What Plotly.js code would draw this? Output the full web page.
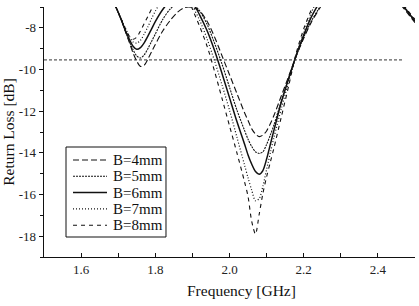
<!DOCTYPE html>
<html>
<head>
<meta charset="utf-8">
<script src="https://cdn.plot.ly/plotly-3.0.1.min.js"></script>
<style>
  html, body { margin: 0; padding: 0; background: #ffffff; }
  #chart { width: 419px; height: 306px; }
</style>
</head>
<body>
<div id="chart"></div>
<script>
// Frequency samples (GHz) shared by every sweep
const freqGHz = [1.69, 1.70, 1.71, 1.72, 1.73, 1.74, 1.75, 1.76, 1.77, 1.78, 1.79, 1.80,
  1.82, 1.84, 1.86, 1.88, 1.90, 1.92, 1.94, 1.96, 1.98, 2.00, 2.02, 2.04, 2.05, 2.06,
  2.07, 2.08, 2.09, 2.10, 2.11, 2.12, 2.14, 2.16, 2.18, 2.20, 2.22, 2.24, 2.26, 2.30,
  2.35, 2.40, 2.44, 2.46, 2.48, 2.50];

// Return loss (dB) for each width B
const rlB4 = [-6.85, -7.25, -7.7, -8.2, -8.7, -9.2, -9.6, -9.85, -9.8, -9.5, -9.15, -8.8,
  -8.15, -7.65, -7.25, -7.02, -7.02, -7.2, -7.7, -8.45, -9.35, -10.25, -11.15, -12.05, -12.45, -12.85,
  -13.1, -13.22, -13.15, -12.95, -12.6, -12.2, -11.25, -10.3, -9.35, -8.5, -7.75, -7.15, -6.6, -5.8,
  -5.1, -5.5, -6.4, -6.85, -7.3, -7.75];
const rlB5 = [-6.85, -7.25, -7.7, -8.2, -8.65, -9.05, -9.35, -9.45, -9.3, -9.0, -8.65, -8.3,
  -7.6, -7.1, -6.8, -6.7, -6.85, -7.2, -7.85, -8.75, -9.75, -10.85, -11.95, -12.9, -13.35, -13.7,
  -13.95, -14.03, -13.95, -13.6, -13.15, -12.65, -11.5, -10.4, -9.35, -8.45, -7.7, -7.1, -6.55, -5.75,
  -5.05, -5.45, -6.35, -6.8, -7.25, -7.7];
const rlB6 = [-6.85, -7.25, -7.7, -8.15, -8.55, -8.88, -9.03, -8.95, -8.72, -8.4, -8.05, -7.7,
  -7.12, -6.7, -6.45, -6.4, -6.75, -7.4, -8.15, -9.1, -10.2, -11.35, -12.5, -13.55, -14.1, -14.55,
  -14.9, -15.03, -14.85, -14.3, -13.6, -12.9, -11.55, -10.4, -9.3, -8.35, -7.5, -6.85, -6.25, -5.7,
  -5.0, -5.4, -6.3, -6.78, -7.22, -7.68];
const rlB7 = [-6.85, -7.25, -7.65, -8.05, -8.4, -8.68, -8.73, -8.6, -8.3, -7.95, -7.55, -7.2,
  -6.6, -6.2, -6.0, -6.3, -6.95, -7.65, -8.55, -9.6, -10.75, -11.95, -13.25, -14.55, -15.2, -15.8,
  -16.3, -16.2, -15.6, -14.8, -14.0, -13.25, -11.85, -10.55, -9.3, -8.25, -7.3, -6.5, -5.8, -5.5,
  -4.9, -5.3, -6.25, -6.75, -7.2, -7.65];
const rlB8 = [-6.85, -7.25, -7.65, -8.05, -8.4, -8.55, -8.45, -8.15, -7.8, -7.45, -7.1, -6.8,
  -6.3, -5.9, -5.8, -6.2, -7.1, -7.95, -8.9, -10.1, -11.4, -12.7, -14.0, -15.35, -16.1, -17.3,
  -17.9, -16.95, -15.95, -15.15, -14.45, -13.75, -12.25, -10.75, -9.2, -8.05, -7.15, -6.3, -5.5, -5.4,
  -4.8, -5.2, -6.2, -6.7, -7.15, -7.6];

const seriesNames = ['B=4mm', 'B=5mm', 'B=6mm', 'B=7mm', 'B=8mm'];

// -10 dB design threshold line
const refLevelDb = -9.54;
const refSpanGHz = [1.5, 2.47];

const xTickVals = [1.6, 1.8, 2.0, 2.2, 2.4];
const xTickText = ['1.6', '1.8', '2.0', '2.2', '2.4'];
const yTickVals = [-18, -16, -14, -12, -10, -8];
const yTickText = ['-18', '-16', '-14', '-12', '-10', '-8'];

const serif = '"Liberation Serif", "Times New Roman", serif';
const ink = '#111111';
const seriesData = [rlB4, rlB5, rlB6, rlB7, rlB8];
const styles = [
  { dash: '6px,3px', width: 1.1 },
  { dash: '2px,1px', width: 1.1 },
  { dash: 'solid', width: 1.5 },
  { dash: '1px,2px', width: 1.2 },
  { dash: '4px,4px', width: 1.1 }
];

const traces = seriesData.map((ys, i) => ({
  type: 'scatter',
  mode: 'lines',
  name: seriesNames[i],
  x: freqGHz,
  y: ys,
  showlegend: false,
  line: { color: ink, width: styles[i].width, dash: styles[i].dash, shape: 'spline', smoothing: 0.8 }
}));

traces.push({
  type: 'scatter',
  mode: 'lines',
  x: refSpanGHz,
  y: [refLevelDb, refLevelDb],
  showlegend: false,
  hoverinfo: 'skip',
  line: { color: '#333333', width: 1, dash: '3px,2px' }
});

// Compact boxed key in the lower-left corner of the plot (paper coordinates)
const key = { x0: 0.0593, x1: 0.3288, y0: 0.08, y1: 0.44, lineX0: 0.0782, lineX1: 0.1698, textX: 0.1806, rowTop: 0.388, rowStep: 0.0652 };
const shapes = [{
  type: 'rect', xref: 'paper', yref: 'paper',
  x0: key.x0, x1: key.x1, y0: key.y0, y1: key.y1,
  line: { color: ink, width: 1 }, fillcolor: '#ffffff', layer: 'above'
}];
const annotations = [];
seriesNames.forEach((name, i) => {
  const yRow = key.rowTop - i * key.rowStep;
  shapes.push({
    type: 'line', xref: 'paper', yref: 'paper',
    x0: key.lineX0, x1: key.lineX1, y0: yRow, y1: yRow,
    line: { color: ink, width: styles[i].width, dash: styles[i].dash }, layer: 'above'
  });
  annotations.push({
    text: name, xref: 'paper', yref: 'paper',
    x: key.textX, y: yRow, xanchor: 'left', yanchor: 'middle',
    showarrow: false, font: { family: serif, size: 15, color: ink }
  });
});

annotations.push({
  text: 'Frequency [GHz]',
  xref: 'paper', yref: 'paper',
  x: 0.532, y: -0.132, xanchor: 'center', yanchor: 'middle',
  showarrow: false,
  font: { family: serif, size: 15.5, color: ink }
});

const layout = {
  width: 419,
  height: 306,
  margin: { l: 44, r: 4, t: 7, b: 49 },
  paper_bgcolor: '#ffffff',
  plot_bgcolor: '#ffffff',
  font: { family: serif, color: ink, size: 13 },
  showlegend: false,
  xaxis: {
    range: [1.5, 2.5],
    tickmode: 'array', tickvals: xTickVals, ticktext: xTickText,
    ticks: 'inside', ticklen: 4, tickwidth: 1, tickcolor: ink,
    minor: { tickmode: 'linear', tick0: 1.5, dtick: 0.1, ticks: 'inside', ticklen: 4, tickcolor: ink },
    showline: true, linecolor: ink, linewidth: 1.3,
    showgrid: false, zeroline: false,
    tickfont: { family: serif, size: 13, color: '#222222' }
  },
  yaxis: {
    range: [-19, -7],
    tickmode: 'array', tickvals: yTickVals, ticktext: yTickText,
    ticks: 'outside', ticklen: 4, tickwidth: 1, tickcolor: ink,
    minor: { tickmode: 'linear', tick0: -19, dtick: 1, ticks: 'outside', ticklen: 3, tickcolor: ink },
    showline: true, linecolor: ink, linewidth: 1.3,
    showgrid: false, zeroline: false,
    tickfont: { family: serif, size: 13, color: '#222222' },
    title: { text: 'Return Loss [dB]', font: { family: serif, size: 15.5, color: ink }, standoff: 8 }
  },
  shapes: shapes,
  annotations: annotations
};

Plotly.newPlot('chart', traces, layout, { staticPlot: true, displayModeBar: false });
</script>
</body>
</html>
